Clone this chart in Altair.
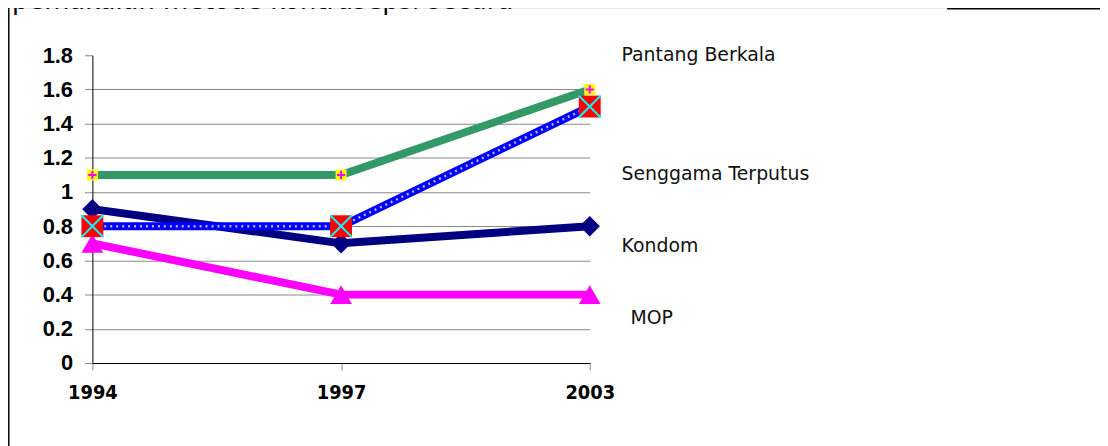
import altair as alt
import pandas as pd

years = ["1994", "1997", "2003"]
pantang = [1.1, 1.1, 1.6]
senggama = [0.8, 0.8, 1.5]
kondom = [0.9, 0.7, 0.8]
mop = [0.7, 0.4, 0.4]
series_names = ["Pantang Berkala", "Senggama Terputus", "Kondom", "MOP"]
y_ticks = [0, 0.2, 0.4, 0.6, 0.8, 1.0, 1.2, 1.4, 1.6, 1.8]
title_text = "pemakaian metode kontrasepsi secara"

rows = []
for name, vals in zip(series_names, [pantang, senggama, kondom, mop]):
    for yr, v in zip(years, vals):
        rows.append({"tahun": yr, "nilai": v, "seri": name})
df = pd.DataFrame(rows)

W, H = 501, 310

x = alt.X("tahun:O", sort=years, scale=alt.Scale(type="point", padding=0),
          axis=alt.Axis(title=None, labelAngle=0,
                        labelFont="DejaVu Sans Condensed, Liberation Sans Narrow, Liberation Sans",
                        labelFontWeight="bold", labelFontSize=20, labelColor="black",
                        labelPadding=13, tickSize=7, tickColor="#888888",
                        domainColor="black", grid=False))
y = alt.Y("nilai:Q", scale=alt.Scale(domain=[0, 1.8], nice=False),
          axis=alt.Axis(title=None, values=y_ticks, format="~g",
                        labelFont="Liberation Sans", labelFontWeight="bold",
                        labelFontSize=22, labelColor="black", labelPadding=12,
                        tickSize=8, tickColor="#888888", domainColor="black",
                        grid=True, gridColor="#888888",
                        gridOpacity={"condition": {"test": "datum.value >= 1.8", "value": 0}, "value": 1}))

base = alt.Chart(df)


def series(name):
    return base.transform_filter(alt.datum.seri == name)


kondom_line = series("Kondom").mark_line(color="#000080", strokeWidth=8).encode(x=x, y=y)
kondom_pts = series("Kondom").mark_point(shape="diamond", filled=True, size=420,
                                         color="#000080", opacity=1).encode(x=x, y=y)

mop_line = series("MOP").mark_line(color="#FF00FF", strokeWidth=8).encode(x=x, y=y)
mop_pts = series("MOP").mark_point(shape="triangle-up", filled=True, size=480,
                                   color="#FF00FF", opacity=1).encode(x=x, y=y)

sg_line = series("Senggama Terputus").mark_line(color="#0000FF", strokeWidth=8).encode(x=x, y=y)
sg_dots = series("Senggama Terputus").mark_line(color="#C8C8FF", strokeWidth=2.5,
                                                strokeDash=[2, 4], opacity=0.9).encode(x=x, y=y)
sg_sq = series("Senggama Terputus").mark_point(shape="square", filled=True, size=484,
                                               color="#FF0000", opacity=1).encode(x=x, y=y)
sg_x = series("Senggama Terputus").mark_point(shape="M-1,-1L1,1M-1,1L1,-1", filled=False,
                                              size=484, color="#00FFFF", strokeWidth=2,
                                              opacity=1).encode(x=x, y=y)

pb_line = series("Pantang Berkala").mark_line(color="#339966", strokeWidth=8).encode(x=x, y=y)
pb_sq = series("Pantang Berkala").mark_point(shape="square", filled=True, size=121,
                                             color="#FFFF00", opacity=1).encode(x=x, y=y)
pb_plus = series("Pantang Berkala").mark_point(shape="M-1,0L1,0M0,-1L0,1", filled=False,
                                               size=70, color="#FF00FF", strokeWidth=2,
                                               opacity=1).encode(x=x, y=y)

label_pos = {
    "Pantang Berkala": (533, 6),
    "Senggama Terputus": (533, 126),
    "Kondom": (533, 198),
    "MOP": (542, 271),
}
labels = []
for name in series_names:
    px, py = label_pos[name]
    labels.append(
        alt.Chart(pd.DataFrame({"seri": [name]})).mark_text(
            align="left", baseline="alphabetic", font="DejaVu Sans", fontSize=19,
            color="#111111").encode(text="seri:N", x=alt.value(px), y=alt.value(py))
    )

dummy = pd.DataFrame({"t": [title_text]})
frame_left = alt.Chart(dummy).mark_rule(color="black", strokeWidth=1.5).encode(
    x=alt.value(-84.2), x2=alt.value(-84.2), y=alt.value(-48), y2=alt.value(400))
frame_top = alt.Chart(dummy).mark_rule(color="black", strokeWidth=1).encode(
    x=alt.value(-85), x2=alt.value(861), y=alt.value(-48), y2=alt.value(-48))
frame_top2 = alt.Chart(dummy).mark_rule(color="black", strokeWidth=2).encode(
    x=alt.value(861), x2=alt.value(1020), y=alt.value(-47), y2=alt.value(-47))
title = alt.Chart(dummy).mark_text(align="left", baseline="alphabetic", font="DejaVu Sans",
                                   fontSize=26, color="black").encode(
    text="t:N", x=alt.value(-81), y=alt.value(-47))

chart = alt.layer(
    kondom_line, mop_line, sg_line, sg_dots, pb_line,
    kondom_pts, mop_pts, sg_sq, sg_x, pb_sq, pb_plus,
    *labels, frame_left, frame_top, frame_top2, title
).properties(
    width=W, height=H,
    autosize=alt.AutoSizeParams(type="none"),
    padding={"left": 85, "top": 46, "right": 514, "bottom": 82},
).configure_view(stroke=None)

chart.save("out.html", embed_options={"renderer": "svg", "actions": False})
